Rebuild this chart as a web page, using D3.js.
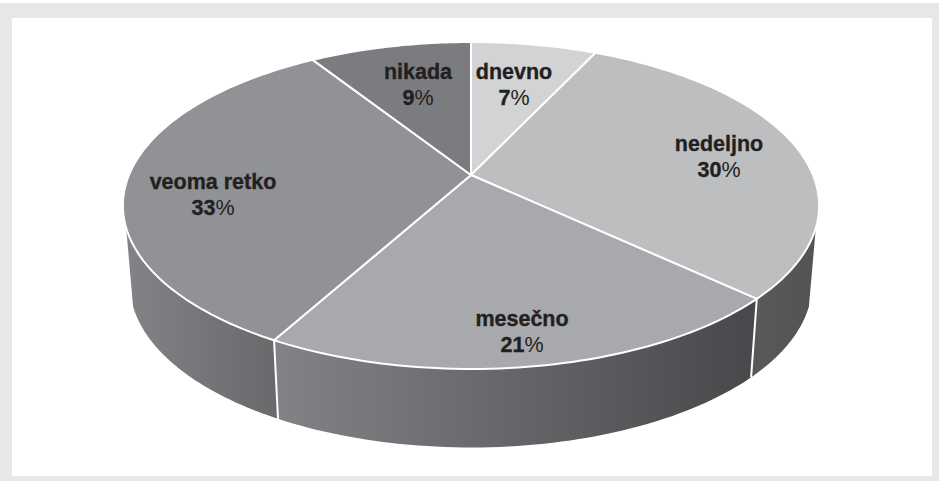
<!DOCTYPE html>
<html><head><meta charset="utf-8">
<script src="https://cdn.jsdelivr.net/npm/d3@7"></script>
<style>html,body{margin:0;padding:0;background:#fff}svg{display:block}</style>
</head><body><svg id="chart" width="939" height="481"></svg>
<script>
// Share of respondents per answer
const categories = ["dnevno", "nedeljno", "mesečno", "veoma retko", "nikada"];
const percents = [7, 30, 21, 33, 9];
const topColors = ["#d1d3d4", "#bcbec0", "#a7a9ac", "#909295", "#7b7c80"];
const sideStops = [
  ["#58595b", "#58595b"], ["#58595b", "#535355"], ["#828386", "#47484a"],
  ["#828386", "#68696b"], ["#6d6e71", "#6d6e71"]
];
const labelAt = [[514, 79], [719, 151], [522, 326], [213, 189], [418, 79]];

const svg = d3.select("#chart");
const W = 939, H = 481;

// Panel frame
svg.append("rect").attr("y", 3).attr("width", W).attr("height", H - 3).attr("fill", "#e6e7e8");
svg.append("rect").attr("x", 12).attr("y", 18).attr("width", 920).attr("height", 458).attr("fill", "#fff");

// Perspective view of a flat disc: the near edge is drawn larger than the far edge
const cx = 471, cy = 175, tilt = 0.1865, rx = 342, ry = 157.8, thick = 78.5, shrink = 0.98;
const scaleU = d3.scaleLinear().domain([0, 1]).range([0, rx]);
const scaleV = d3.scaleLinear().domain([0, 1]).range([0, ry]);
function rimTop(a) {
  const u = Math.sin(a), v = -Math.cos(a), w = 1 - tilt * v;
  return [cx + scaleU(u) / w, cy + scaleV(v) / w];
}
function rimBottom(a) {
  const p = rimTop(a);
  return [cx + (p[0] - cx) * shrink, p[1] + thick];
}
const arcPoints = (a0, a1, f) => d3.range(0, 61).map(i => f(a0 + (a1 - a0) * i / 60));
const line = d3.line();

const slices = d3.pie().sort(null).value(d => d)(percents);
const defs = svg.append("defs");

// Side wall: only the part of the rim that faces the viewer
const wallFrom = 108.4 * Math.PI / 180, wallTo = 251.6 * Math.PI / 180;
const walls = svg.append("g");
slices.forEach((s, i) => {
  const a0 = Math.max(s.startAngle, wallFrom), a1 = Math.min(s.endAngle, wallTo);
  if (a1 <= a0) return;
  const upper = arcPoints(a0, a1, rimTop), lower = arcPoints(a0, a1, rimBottom).reverse();
  const xs = upper.concat(lower).map(p => p[0]);
  const id = "wall" + i;
  const g = defs.append("linearGradient").attr("id", id).attr("gradientUnits", "userSpaceOnUse")
    .attr("x1", d3.min(xs)).attr("x2", d3.max(xs)).attr("y1", 0).attr("y2", 0);
  g.append("stop").attr("offset", 0).attr("stop-color", sideStops[i][0]);
  g.append("stop").attr("offset", 1).attr("stop-color", sideStops[i][1]);
  walls.append("path").attr("d", line(upper.concat(lower)) + "Z").attr("fill", `url(#${id})`);
});

// Radial seams on the wall
slices.slice(0, -1).forEach(s => {
  const a = s.endAngle;
  if (a > wallFrom && a < wallTo) {
    walls.append("path").attr("d", line([rimTop(a), rimBottom(a)]))
      .attr("stroke", "#fff").attr("stroke-width", 2).attr("fill", "none");
  }
});

// Top face
const face = svg.append("g");
slices.forEach((s, i) => {
  const pts = [[cx, cy]].concat(arcPoints(s.startAngle, s.endAngle, rimTop));
  face.append("path").attr("d", line(pts) + "Z").attr("fill", topColors[i])
    .attr("stroke", "#fff").attr("stroke-width", 2).attr("stroke-linejoin", "round");
});

// Labels
const fontFamily = "'Liberation Sans', Arial, sans-serif";
const labels = svg.append("g").attr("font-family", fontFamily).attr("fill", "#231f20")
  .attr("text-anchor", "middle");
categories.forEach((c, i) => {
  const [x, y] = labelAt[i];
  labels.append("text").attr("x", x).attr("y", y).attr("font-size", 21.5).attr("font-weight", 700)
    .attr("stroke", "#231f20").attr("stroke-width", 0.35).text(c);
  const t = labels.append("text").attr("x", x).attr("y", y + 26).attr("font-size", 21.5);
  t.append("tspan").attr("font-weight", 700).attr("stroke", "#231f20").attr("stroke-width", 0.35)
    .text(percents[i]);
  t.append("tspan").text("%");
});
</script></body></html>
